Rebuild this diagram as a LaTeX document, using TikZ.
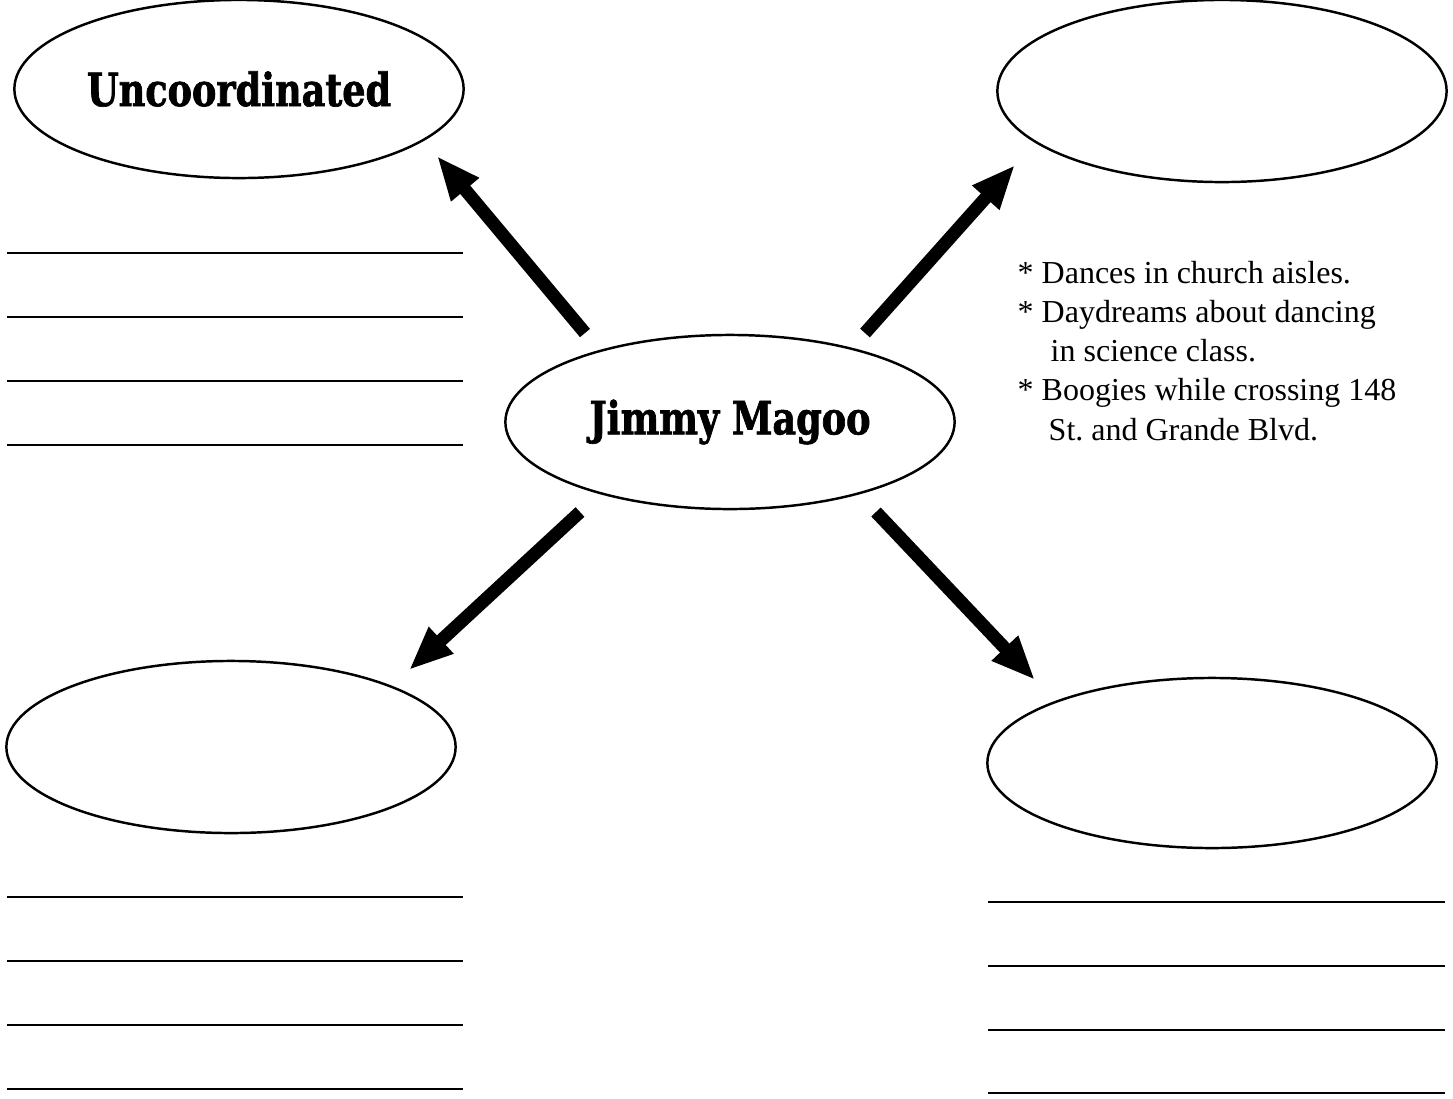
\documentclass[tikz,border=0pt]{standalone}
\usepackage{fontspec}
\setmainfont{Liberation Serif}
\newfontfamily\slabfont[FakeStretch=0.8, BoldFeatures={FakeBold=1.5}]{DejaVu Serif}
\usetikzlibrary{shapes.geometric,arrows.meta}

\begin{document}
\begin{tikzpicture}[x=0.01cm,y=-0.01cm]
                \useasboundingbox (0,0) rectangle (1453,1099);

                \begin{scope}[every node/.style={draw, ellipse, line width=0.7pt, inner sep=0, minimum width=4.49cm, font=\slabfont\bfseries\fontsize{13}{15}\selectfont}]
                        \node [minimum height=1.78cm] (uncoord) at (239,89) {Uncoordinated};
                        \node [minimum height=1.82cm] (topright) at (1222,91) {};
                        \node [minimum height=1.74cm] (jimmy) at (730,422) {Jimmy Magoo};
                        \node [minimum height=1.72cm] (botleft) at (231,747) {};
                        \node [minimum height=1.70cm] (botright) at (1212,763) {};
                \end{scope}

                \coordinate (nwtail) at (585,333);
                \coordinate (nwtip) at (437,156);
                \coordinate (netail) at (865,333);
                \coordinate (netip) at (1015,165);
                \coordinate (swtail) at (580,512);
                \coordinate (swtip) at (409,670);
                \coordinate (setail) at (876,512);
                \coordinate (setip) at (1035,680);

                \begin{scope}[every path/.style={line width=3.7pt, -{Triangle[length=12.5pt,width=9.5pt]}}]
                        \path (nwtail) edge (nwtip);
                        \path (netail) edge (netip);
                        \path (swtail) edge (swtip);
                        \path (setail) edge (setip);
                \end{scope}

                \node [anchor=base west, inner sep=0, align=left, font=\fontsize{9.1}{11.1}\selectfont] (notes) at (1017,440)
                        {* Dances in church aisles.\\
                         * Daydreams about dancing\\
                         \hspace*{0.33cm}in science class.\\
                         * Boogies while crossing 148\\
                         \hspace*{0.31cm}St.\ and Grande Blvd.};

                \begin{scope}[line width=0.7pt]
                        \draw (7,253) -- (463,253);
                        \draw (7,317) -- (463,317);
                        \draw (7,381) -- (463,381);
                        \draw (7,445) -- (463,445);
                        \draw (7,897) -- (463,897);
                        \draw (7,961) -- (463,961);
                        \draw (7,1025) -- (463,1025);
                        \draw (7,1089) -- (463,1089);
                        \draw (988,902) -- (1445,902);
                        \draw (988,966) -- (1445,966);
                        \draw (988,1030) -- (1445,1030);
                        \draw (988,1093) -- (1445,1093);
                \end{scope}
\end{tikzpicture}
\end{document}
